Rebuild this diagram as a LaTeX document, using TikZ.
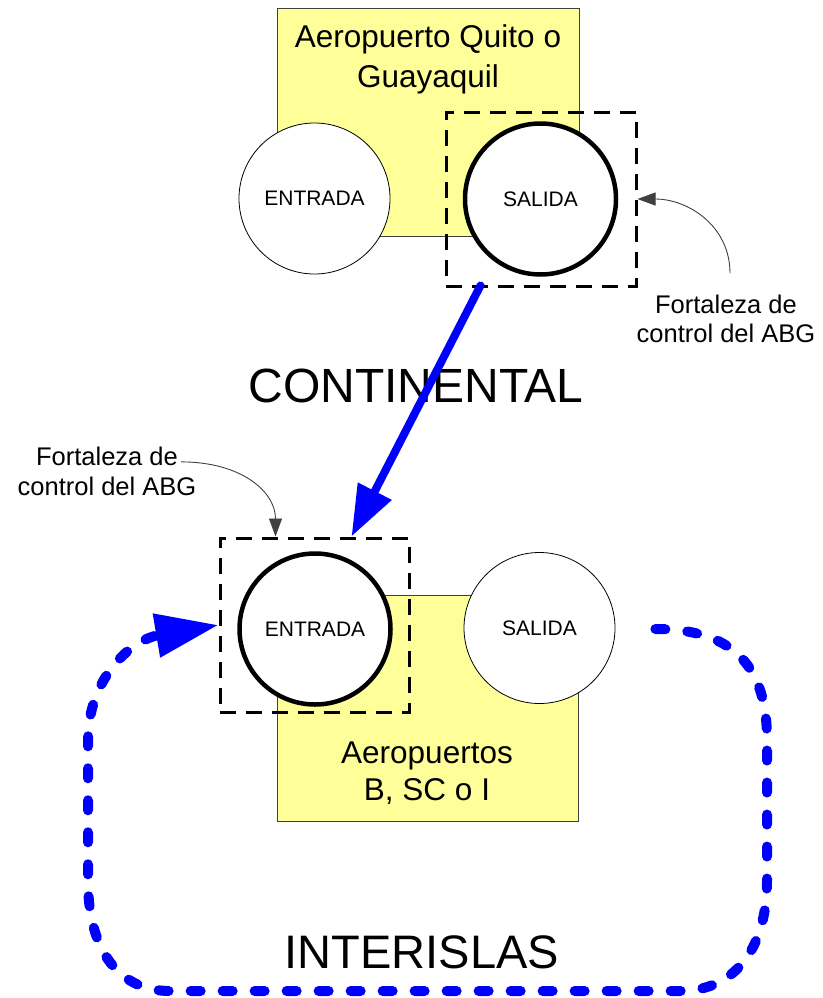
\documentclass[tikz,border=0pt]{standalone}
\usepackage{fontspec}
\setmainfont{Liberation Sans}
\usetikzlibrary{arrows.meta}
\definecolor{yellowbg}{RGB}{255,255,153}
\definecolor{bluearrow}{RGB}{0,0,255}
\begin{document}
\begin{tikzpicture}[x=1pt,y=-1pt,
  yel/.style={draw=black!75, line width=1pt, fill=yellowbg, inner sep=0pt},
  thincirc/.style={circle, draw=black, line width=0.8pt, fill=white, minimum size=151pt, inner sep=0pt, font=\fontsize{21}{25}\selectfont},
  thickcirc/.style={thincirc, line width=4.5pt},
  ctrlbox/.style={draw=black, line width=3pt, dash pattern=on 16pt off 10pt, inner sep=0pt},
  title/.style={anchor=base, inner sep=0pt, font=\fontsize{31.5}{38}\selectfont},
  big/.style={anchor=base, inner sep=0pt, font=\fontsize{48}{56}\selectfont},
  note/.style={anchor=base, inner sep=3pt, font=\fontsize{25.5}{30}\selectfont},
  noteline/.style={draw=black!75, line width=0.9pt, -{Triangle[length=18pt,width=13pt]}},
  contarrow/.style={draw=bluearrow, line width=8pt, line cap=round, -{Triangle[length=51pt,width=36pt]}},
  islarrow/.style={draw=bluearrow, line width=10pt, line cap=round, dash pattern=on 10pt off 22pt, -{Triangle[length=63pt,width=42pt]}}
]
\useasboundingbox (0,0) rectangle (822,998);

% yellow airport areas
\node[yel, minimum width=302pt, minimum height=227pt] (topArea) at (428,122.5) {};
\node[yel, minimum width=301pt, minimum height=226pt] (botArea) at (427.5,708) {};

% circles
\node[thincirc] (tE) at (314.5,198.5) {ENTRADA};
\node[thickcirc] (tS) at (540.5,199) {SALIDA};
\node[thickcirc] (bE) at (315,629) {ENTRADA};
\node[thincirc] (bS) at (539.5,628) {SALIDA};

% control boxes
\node[ctrlbox, minimum width=190pt, minimum height=174pt] (tbox) at (541,199) {};
\node[ctrlbox, minimum width=189pt, minimum height=174pt] (bbox) at (314.5,625) {};

% titles
\node[title] (t1a) at (428,48) {Aeropuerto Quito o};
\node[title] (t1b) at (428,87) {Guayaquil};
\node[title] (t2a) at (427,763) {Aeropuertos};
\node[title] (t2b) at (427,800) {B, SC o I};

\node[big] (cont) at (416,402) {CONTINENTAL};
\node[big, font=\fontsize{47}{56}\selectfont] (inter) at (422,968) {INTERISLAS};

% notes
\node[note] (fR1) at (726,313) {Fortaleza de};
\node[note] (fR2) at (726,342) {control del ABG};
\node[note] (fL1) at (107,465) {Fortaleza de};
\node[note] (fL2) at (107,495) {control del ABG};

\draw[noteline] ([xshift=4pt,yshift=18pt]fR1.north) .. controls +(0,-48) and +(50,0) .. (tbox.east);
\draw[noteline] ([yshift=-6pt]fL1.east) .. controls +(60,0) and +(0,-45) .. ([xshift=57pt]bbox.north west);

% flows
\draw[contarrow] ([xshift=36pt,yshift=2pt]tbox.south west) -- ([xshift=133pt]bbox.north west);
\draw[islarrow] ([xshift=40pt,yshift=-1pt]bS.east) .. controls (737,629) and (767,670) .. (767,740)
  -- (767,880) .. controls (767,952) and (732,991) .. (680,991)
  -- (170,991) .. controls (120,991) and (88,952) .. (88,880)
  -- (88,740) .. controls (88,680) and (130,640) .. (bbox.west);
\end{tikzpicture}
\end{document}
